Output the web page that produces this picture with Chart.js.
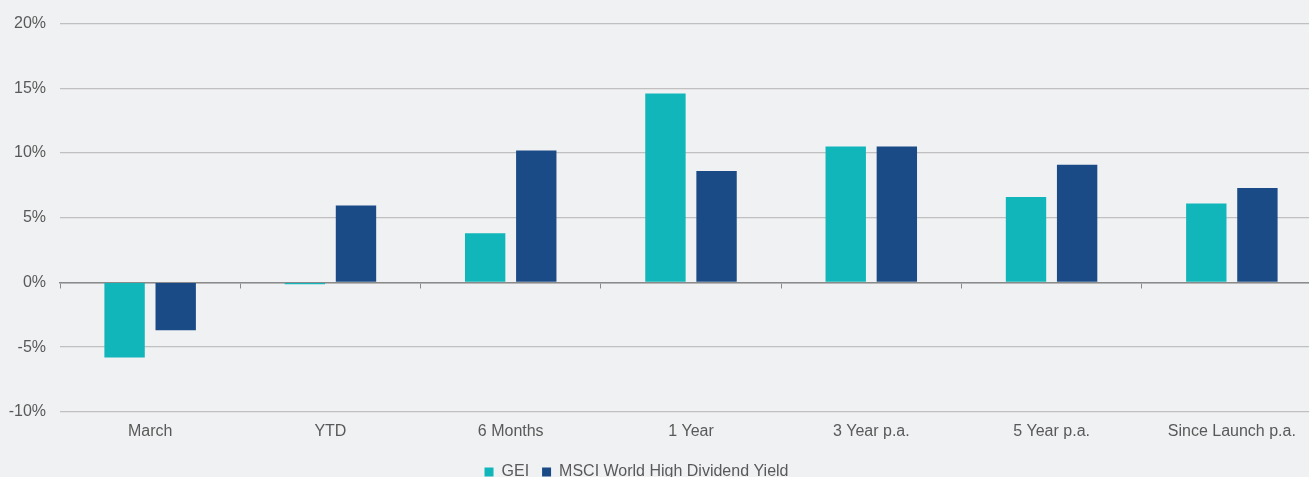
<!DOCTYPE html>
<html>
<head>
<meta charset="utf-8">
<title>GEI vs MSCI World High Dividend Yield</title>
<script src="https://cdn.jsdelivr.net/npm/chart.js@4/dist/chart.umd.min.js"></script>
<style>
  html, body { margin: 0; padding: 0; background: #f0f1f3; overflow: hidden; }
  #wrap { width: 1322px; height: 490px; }
</style>
</head>
<body>
<div id="wrap"><canvas id="perf" width="1322" height="490"></canvas></div>
<script>
// Performance periods and returns (%)
const categories = ['March', 'YTD', '6 Months', '1 Year', '3 Year p.a.', '5 Year p.a.', 'Since Launch p.a.'];
const geiReturns = [-5.8, -0.15, 3.8, 14.6, 10.5, 6.6, 6.1];
const msciReturns = [-3.7, 5.95, 10.2, 8.6, 10.5, 9.1, 7.3];
const seriesNames = ['GEI', 'MSCI World High Dividend Yield'];
const yTicks = [-10, -5, 0, 5, 10, 15, 20];

const FONT = "Arial, 'Liberation Sans', sans-serif";
const TEXT = '#595959';
const LEGEND_SHIFT = 29;
const Y_AXIS_WIDTH = 51;

// Nudge the centred legend row a little to the left
const legendNudge = {
  id: 'legendNudge',
  afterLayout(chart) {
    const lg = chart.legend;
    if (lg) { lg.left -= LEGEND_SHIFT; lg.right -= LEGEND_SHIFT; }
  }
};

new Chart(document.getElementById('perf'), {
  type: 'bar',
  data: {
    labels: categories,
    datasets: [
      { label: seriesNames[0], data: geiReturns, backgroundColor: '#10b6b9', borderWidth: 0,
        categoryPercentage: 0.567, barPercentage: 0.79 },
      { label: seriesNames[1], data: msciReturns, backgroundColor: '#1b4b86', borderWidth: 0,
        categoryPercentage: 0.567, barPercentage: 0.79 }
    ]
  },
  options: {
    responsive: false,
    animation: false,
    devicePixelRatio: 1,
    layout: { padding: { top: 23, left: 9, right: 0, bottom: 0 } },
    plugins: {
      tooltip: { enabled: false },
      legend: {
        position: 'bottom',
        labels: {
          boxWidth: 9, boxHeight: 9, padding: 13,
          color: TEXT, font: { family: FONT, size: 16 }
        }
      }
    },
    scales: {
      x: {
        type: 'category',
        offset: true,
        grid: { display: false, drawTicks: false, offset: true },
        border: { display: false },
        ticks: { color: TEXT, font: { family: FONT, size: 16 }, padding: 10, maxRotation: 0, autoSkip: false }
      },
      // Zero baseline with small tick marks between the periods
      xZero: {
        type: 'category',
        axis: 'x',
        position: { y: 0 },
        offset: true,
        grid: { offset: true, drawOnChartArea: false, drawTicks: true, tickLength: 5, color: '#8a8a8a', lineWidth: 1 },
        border: { display: true, color: '#8a8a8a', width: 1.5 },
        ticks: { display: false }
      },
      y: {
        min: yTicks[0],
        max: yTicks[yTicks.length - 1],
        afterBuildTicks(scale) { scale.ticks = yTicks.map(v => ({ value: v })); },
        afterFit(scale) { scale.width = Y_AXIS_WIDTH; },
        grid: { color: '#c0c0c0', lineWidth: 1.3, drawTicks: false },
        border: { display: false },
        ticks: {
          color: TEXT, font: { family: FONT, size: 16 }, padding: 14,
          callback: v => v + '%'
        }
      }
    }
  },
  plugins: [legendNudge]
});
</script>
</body>
</html>
